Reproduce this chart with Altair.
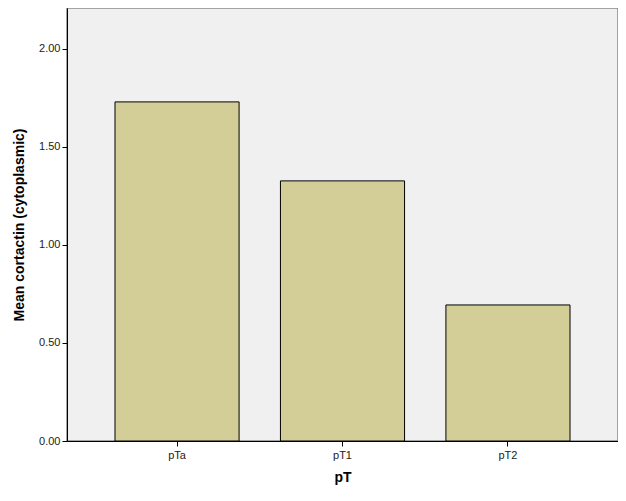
import altair as alt
import pandas as pd

categories = ["pTa", "pT1", "pT2"]
means = [1.73, 1.327, 0.694]

df = pd.DataFrame({"pT": categories, "mean": means})

chart = alt.Chart(df).mark_bar(
    color="#D3CE97", stroke="#000000", strokeWidth=1
).encode(
    x=alt.X("pT:N", sort=categories,
            scale=alt.Scale(paddingInner=0.25, paddingOuter=0.29),
            axis=alt.Axis(title="pT", labelAngle=0, titleFontWeight="bold",
                          titleFontSize=14, labelFontSize=11, tickSize=5,
                          titlePadding=10, labelPadding=3)),
    y=alt.Y("mean:Q", scale=alt.Scale(domain=[0, 2.209], nice=False, zero=True),
            axis=alt.Axis(title="Mean cortactin (cytoplasmic)", format=".2f",
                          values=[0, 0.5, 1.0, 1.5, 2.0], grid=False,
                          titleFontWeight="bold", titleFontSize=14,
                          labelFontSize=11, tickSize=5, titlePadding=12,
                          labelPadding=2)),
).properties(
    width=551, height=433,
    background="#FFFFFF",
    padding={"left": 59, "top": 0, "right": 0, "bottom": 50},
    autosize=alt.AutoSizeParams(type="none"),
).configure_view(
    fill="#F0F0F0", stroke="#888888", strokeWidth=1.5
).configure_axis(
    domainColor="#000000", tickColor="#000000", labelColor="#222222",
    titleColor="#000000", labelFont="Liberation Sans", titleFont="Liberation Sans",
    domainWidth=1
)

chart.save("out.html", embed_options={"renderer": "svg", "actions": False})
